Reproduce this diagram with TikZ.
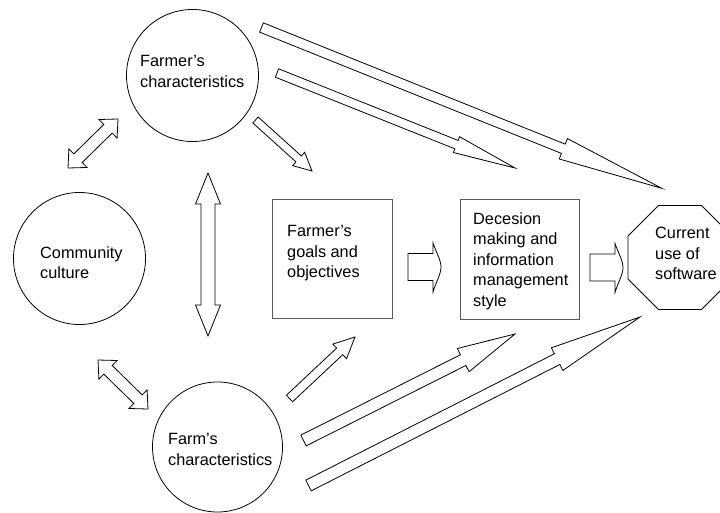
\documentclass[tikz,border=0pt]{standalone}
\usepackage{fontspec}
\setmainfont{Liberation Sans}
\usetikzlibrary{calc,shapes.geometric}
\tikzset{
  circ/.style={circle,draw,line width=0.8pt,minimum size=132pt,inner sep=0pt},
  boxn/.style={rectangle,draw=black!65,line width=0.8pt,inner sep=0pt},
  octo/.style={regular polygon,regular polygon sides=8,draw,line width=0.9pt,minimum size=112.6pt,inner sep=0pt},
  lbl/.style={anchor=west,inner sep=0pt,align=left,font=\fontsize{16.3pt}{20.5pt}\selectfont},
  blk/.style={draw,fill=white,line width=0.8pt,line join=miter},
}
% single block arrow: tail, tip, half shaft, half head, head length
\newcommand{\blockarrow}[5]{%
  \coordinate (bab) at ($(#2)!#5!(#1)$);
  \draw[blk] ($(#1)!#3!90:(#2)$) -- ($(bab)!#3!90:(#2)$) -- ($(bab)!#4!90:(#2)$) -- (#2)
    -- ($(bab)!#4!-90:(#2)$) -- ($(bab)!#3!-90:(#2)$) -- ($(#1)!#3!-90:(#2)$) -- cycle;}
% double block arrow: tip A, tip T, half shaft, half head, head length
\newcommand{\dblarrow}[5]{%
  \coordinate (dba) at ($(#1)!#5!(#2)$);
  \coordinate (dbt) at ($(#2)!#5!(#1)$);
  \draw[blk] (#1) -- ($(dba)!#4!90:(#2)$) -- ($(dba)!#3!90:(#2)$) -- ($(dbt)!#3!-90:(#1)$)
    -- ($(dbt)!#4!-90:(#1)$) -- (#2) -- ($(dbt)!#4!90:(#1)$) -- ($(dbt)!#3!90:(#1)$)
    -- ($(dba)!#3!-90:(#2)$) -- ($(dba)!#4!-90:(#2)$) -- cycle;}
% short horizontal arrow with curved head, from shaft start
\newcommand{\midarrow}[1]{%
  \draw[blk,shift={(#1)}] (0,-13.5) -- (25,-13.5) -- (25,-24)
    .. controls (28,-15) and (33,-7) .. (33,0)
    .. controls (33,7) and (28,15) .. (25,25) -- (25,13.5) -- (0,13.5) -- cycle;}
\begin{document}
\begin{tikzpicture}[x=1pt,y=-1pt]
\useasboundingbox (0,0) rectangle (720,513);
% nodes
\node[circ] (fc) at (192.5,75.5) {};
\node[circ] (cc) at (79.5,258.5) {};
\node[circ,minimum size=130pt] (fm) at (217.5,447) {};
\node[boxn,minimum width=120pt,minimum height=119pt] (goal) at (332,258.5) {};
\node[boxn,minimum width=119pt,minimum height=120pt] (dec) at (519.5,259) {};
\node[octo] (cur) at (680,257.5) {};
% labels
\node[lbl] (fct) at (140,71.5) {Farmer's\\characteristics};
\node[lbl] (cct) at (40,262.5) {Community\\culture};
\node[lbl] (fmt) at (168,449.5) {Farm's\\characteristics};
\node[lbl] (goalt) at (287,253.5) {Farmer's\\goals and\\objectives};
\node[lbl] (dect) at (473,261) {Decesion\\making and\\information\\management\\style};
\node[lbl] (curt) at (655,253.5) {Current\\use of\\software};
% arrow end points
\coordinate (d1a) at (68,168);   \coordinate (d1b) at (118,119);
\coordinate (d2a) at (98,360);   \coordinate (d2b) at (148,409);
\coordinate (d3a) at (208,173);  \coordinate (d3b) at (208,336);
\coordinate (g1s) at (255.5,120); \coordinate (g1t) at (312,171);
\coordinate (g2s) at (289.5,398.5); \coordinate (g2t) at (355,337);
\coordinate (l1s) at (261.5,27.5); \coordinate (l1t) at (661.7,188.3);
\coordinate (l2s) at (277,73);   \coordinate (l2t) at (515,168);
\coordinate (l3s) at (303.5,440.5); \coordinate (l3t) at (515,334);
\coordinate (l4s) at (308.5,485.5); \coordinate (l4t) at (640,317);
\coordinate (m1s) at (408,267);
\coordinate (m2s) at (590,267.5);
% arrows
\dblarrow{d1a}{d1b}{6pt}{13pt}{14pt}
\dblarrow{d2a}{d2b}{6pt}{13pt}{14pt}
\dblarrow{d3a}{d3b}{7pt}{12.5pt}{31pt}
\blockarrow{g1s}{g1t}{4pt}{9pt}{18pt}
\blockarrow{g2s}{g2t}{4.5pt}{10pt}{21pt}
\blockarrow{l1s}{l1t}{5pt}{11pt}{106pt}
\blockarrow{l2s}{l2t}{4.5pt}{8.5pt}{63pt}
\blockarrow{l3s}{l3t}{6pt}{13pt}{58pt}
\blockarrow{l4s}{l4t}{6pt}{12.7pt}{93pt}
\midarrow{m1s}
\midarrow{m2s}
\end{tikzpicture}
\end{document}
